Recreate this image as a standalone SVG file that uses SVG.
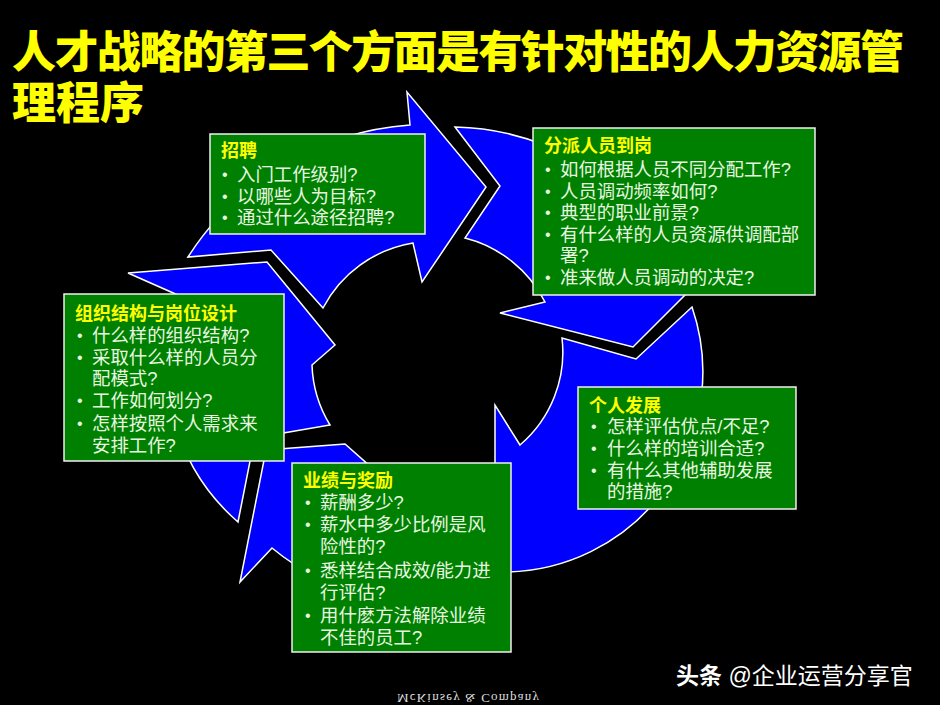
<svg xmlns="http://www.w3.org/2000/svg" width="940" height="705" viewBox="0 0 940 705">
<style>
.cjk{font-family:"Liberation Sans","Noto Sans CJK SC","Noto Sans CJK JP",sans-serif}
.title{font-size:44px;font-weight:900;fill:#FFFF00}
.arrow{fill:#0000FF;stroke:#FFFFFF;stroke-width:1.5;stroke-linejoin:miter}
.box{fill:#008000;stroke:#F0F0F0;stroke-width:1.5}
.hd{font-size:18px;font-weight:700;fill:#FFFF00}
.bl{font-size:18.4px;font-weight:400;fill:#E8F8E0}
.dot{font-family:"Liberation Sans",sans-serif;font-size:16px}
</style>
<rect x="0" y="0" width="940" height="705" fill="#000000"/>
<g id="title">
<text class="cjk title"><tspan x="12" y="68" textLength="892">人才战略的第三个方面是有针对性的人力资源管</tspan><tspan x="12" y="119">理程序</tspan></text>
</g>
<g id="connectors">
<path class="arrow" d="M188 257 A288 288 0 0 1 410 125 L407 92 L486 187 L422 282 L413 243 A124 124 0 0 0 323 308 L271 250 Z"/>
<path class="arrow" d="M455 127 A258 258 0 0 1 672 255 L712 268 L633 347 L500 313 L545 302 A124 124 0 0 0 465 238 L500 186 Z"/>
<path class="arrow" d="M692 307 A200 200 0 0 1 505 572 L498 610 L455 530 L495 470 L495 405 L520 445 A122 122 0 0 0 562 338 L636 359 Z"/>
<path class="arrow" d="M470 600 A245 245 0 0 1 272 548 L240 582 L266 450 L345 444 L370 466 A123 123 0 0 0 470 470 L440 530 Z"/>
<path class="arrow" d="M238 522 A205 205 0 0 1 180 296 L128 273 L267 262 L335 345 L312 365 A123 123 0 0 0 330 425 L254.6 438 Z"/>
</g>
<g id="node-zhaopin">
<rect class="box" x="210" y="134" width="215" height="100"/>
<text class="cjk hd"><tspan x="221" y="157">招聘</tspan><tspan class="bl"><tspan class="dot" x="222" y="180">•</tspan><tspan x="237" y="181">入门工作级别?</tspan><tspan class="dot" x="222" y="202">•</tspan><tspan x="237" y="203">以哪些人为目标?</tspan><tspan class="dot" x="222" y="223">•</tspan><tspan x="237" y="224">通过什么途径招聘?</tspan></tspan></text>
</g>
<g id="node-fenpai">
<rect class="box" x="533" y="128" width="282" height="167"/>
<text class="cjk hd"><tspan x="544" y="152">分派人员到岗</tspan><tspan class="bl"><tspan class="dot" x="545" y="175">•</tspan><tspan x="560" y="176">如何根据人员不同分配工作?</tspan><tspan class="dot" x="545" y="197">•</tspan><tspan x="560" y="198">人员调动频率如何?</tspan><tspan class="dot" x="545" y="218">•</tspan><tspan x="560" y="219">典型的职业前景?</tspan><tspan class="dot" x="545" y="240">•</tspan><tspan x="560" y="241">有什么样的人员资源供调配部</tspan><tspan x="560" y="262">署?</tspan><tspan class="dot" x="545" y="283">•</tspan><tspan x="560" y="284">准来做人员调动的决定?</tspan></tspan></text>
</g>
<g id="node-fazhan">
<rect class="box" x="578" y="387" width="218" height="122"/>
<text class="cjk hd"><tspan x="589" y="412">个人发展</tspan><tspan class="bl"><tspan class="dot" x="591" y="432">•</tspan><tspan x="607" y="433">怎样评估优点/不足?</tspan><tspan class="dot" x="591" y="454">•</tspan><tspan x="607" y="455">什么样的培训合适?</tspan><tspan class="dot" x="591" y="476">•</tspan><tspan x="607" y="477">有什么其他辅助发展</tspan><tspan x="607" y="498">的措施?</tspan></tspan></text>
</g>
<g id="node-zuzhi">
<rect class="box" x="64" y="294" width="220" height="167"/>
<text class="cjk hd"><tspan x="75" y="320">组织结构与岗位设计</tspan><tspan class="bl"><tspan class="dot" x="77" y="341">•</tspan><tspan x="92" y="342">什么样的组织结构?</tspan><tspan class="dot" x="77" y="363">•</tspan><tspan x="92" y="364">采取什么样的人员分</tspan><tspan x="92" y="385">配模式?</tspan><tspan class="dot" x="77" y="406">•</tspan><tspan x="92" y="407">工作如何划分?</tspan><tspan class="dot" x="77" y="429">•</tspan><tspan x="92" y="430">怎样按照个人需求来</tspan><tspan x="92" y="452">安排工作?</tspan></tspan></text>
</g>
<g id="node-yeji">
<rect class="box" x="292" y="463" width="219" height="189"/>
<text class="cjk hd"><tspan x="303" y="487">业绩与奖励</tspan><tspan class="bl"><tspan class="dot" x="305" y="508">•</tspan><tspan x="320" y="509">薪酬多少?</tspan><tspan class="dot" x="305" y="530">•</tspan><tspan x="320" y="531">薪水中多少比例是风</tspan><tspan x="320" y="553">险性的?</tspan><tspan class="dot" x="305" y="576">•</tspan><tspan x="320" y="577">悉样结合成效/能力进</tspan><tspan x="320" y="599">行评估?</tspan><tspan class="dot" x="305" y="621">•</tspan><tspan x="320" y="622">用什麽方法解除业绩</tspan><tspan x="320" y="644">不佳的员工?</tspan></tspan></text>
</g>
<g id="footer">
<text x="676" y="684" class="cjk" font-size="23" fill="#FFFFFF"><tspan font-weight="700">头条</tspan> @企业运营分享官</text>
<text transform="translate(0,1397) scale(1,-1)" x="397" y="703" font-family="Liberation Serif,serif" font-size="13" fill="#DDDDDD" textLength="142">McKinsey &amp; Company</text>
</g>
</svg>
